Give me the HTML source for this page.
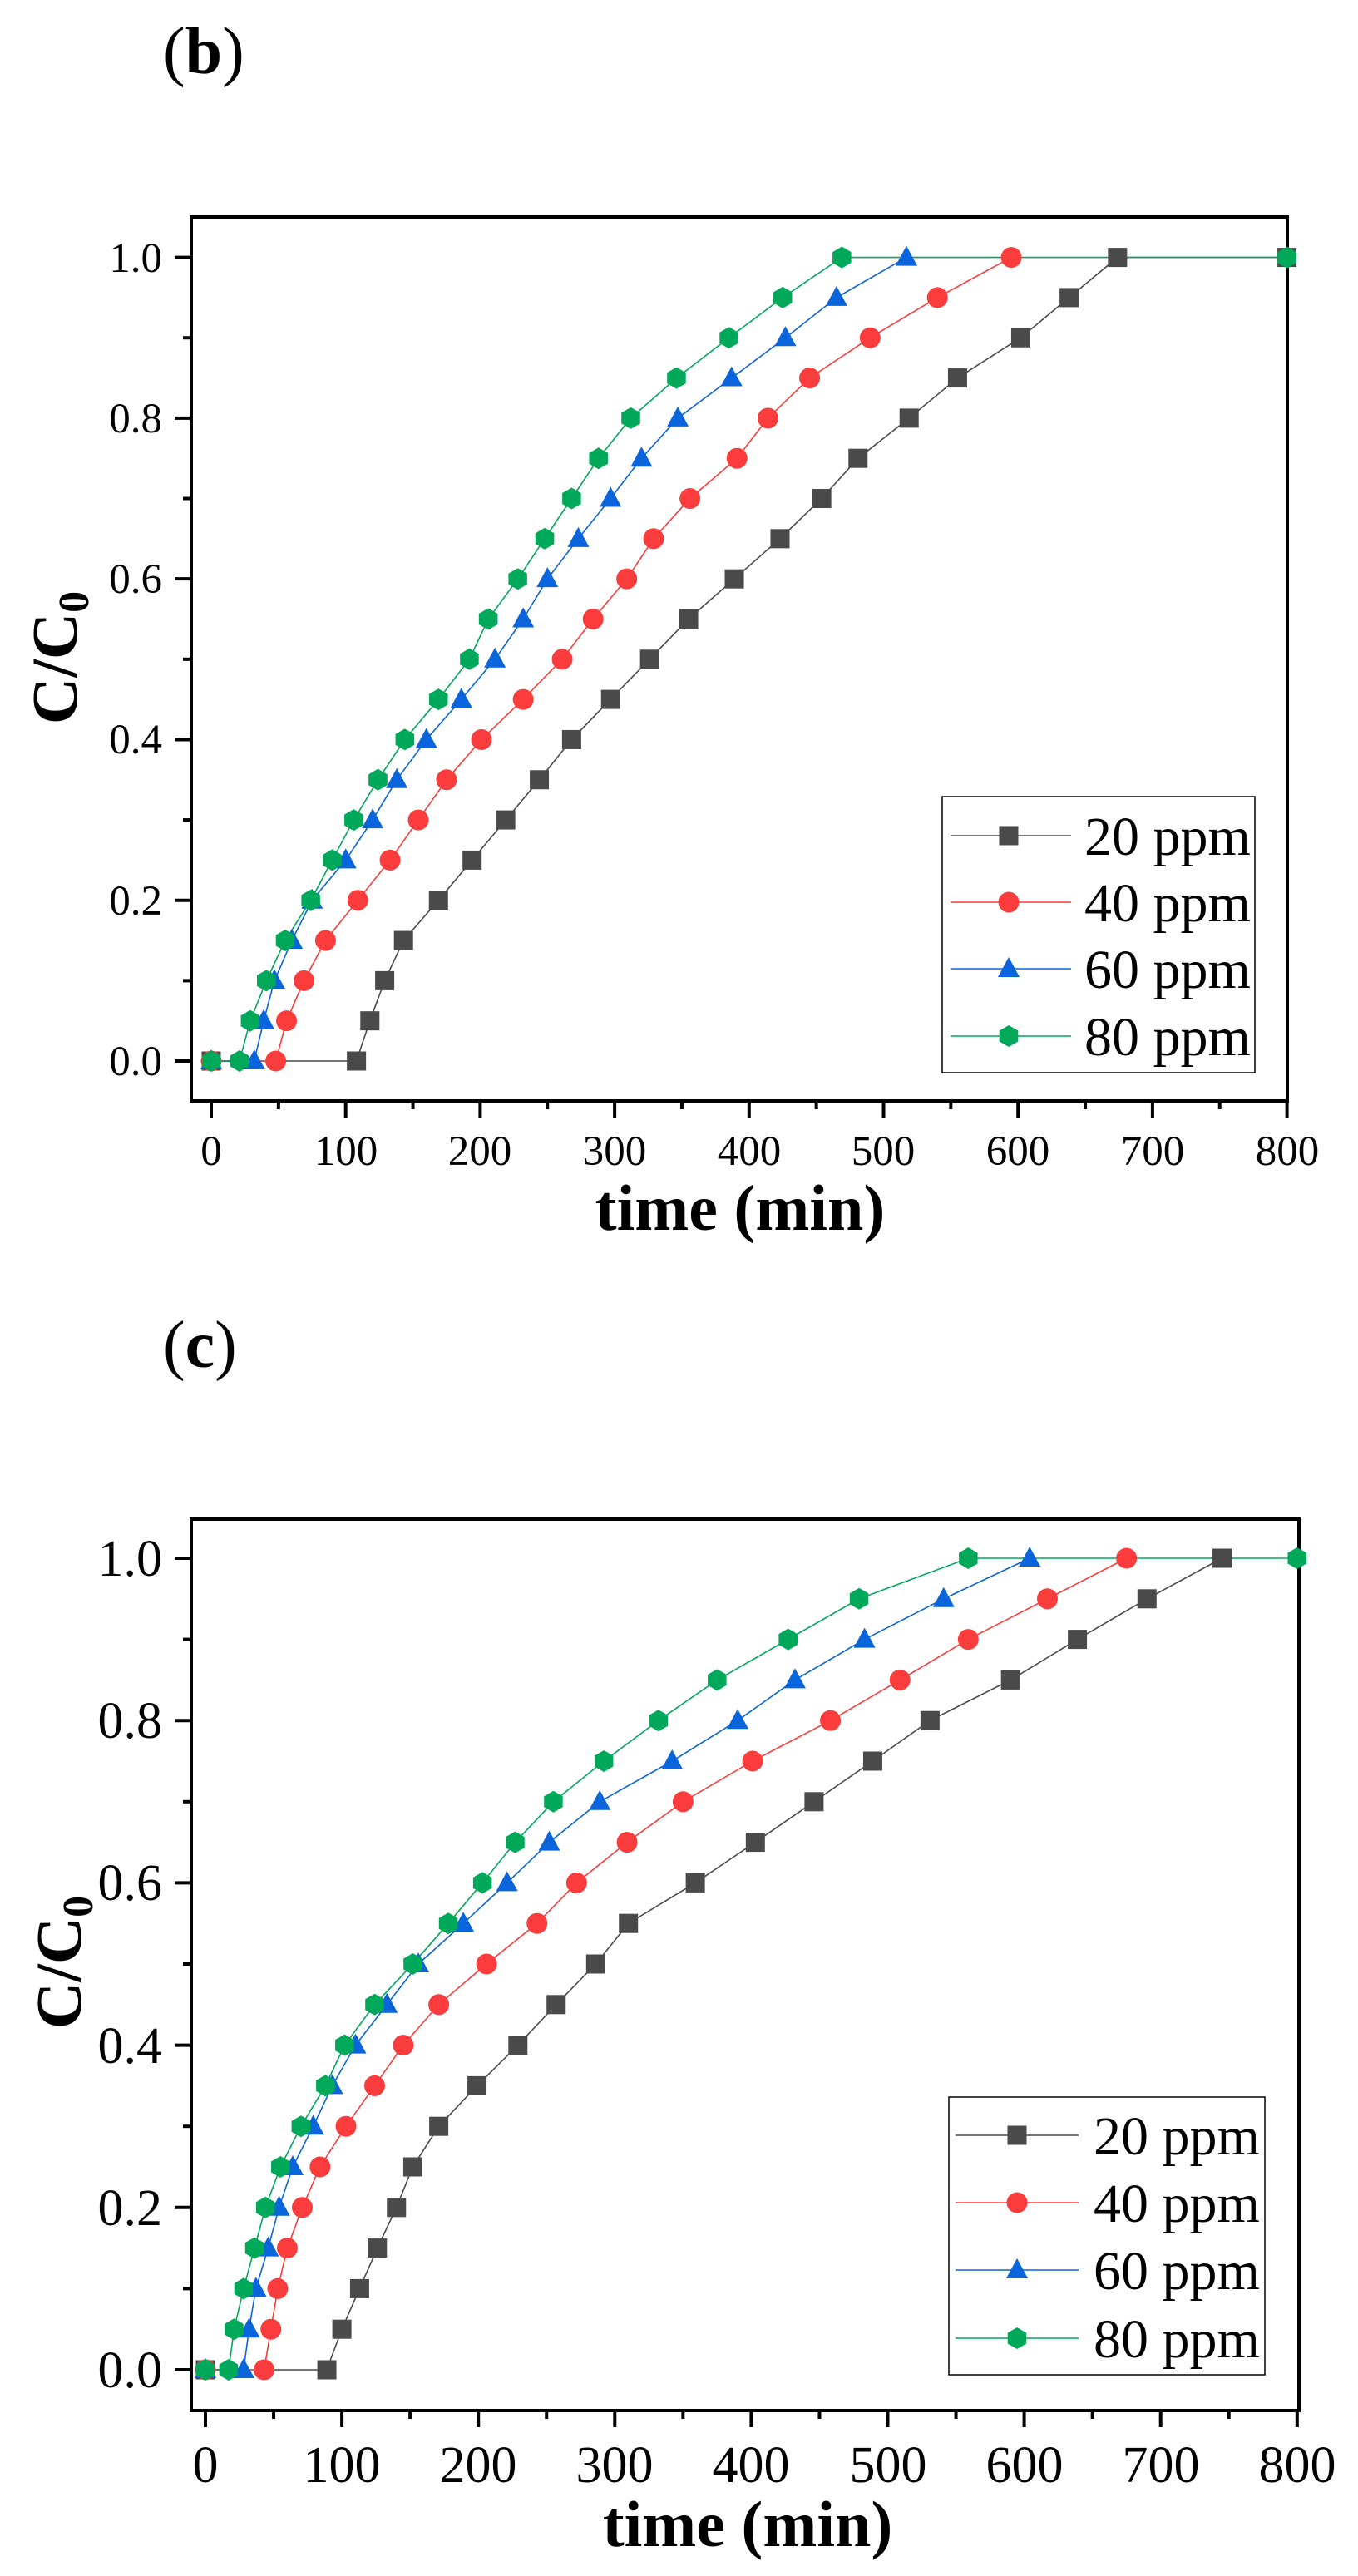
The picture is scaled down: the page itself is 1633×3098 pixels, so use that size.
<!DOCTYPE html>
<html><head><meta charset="utf-8"><style>
html,body{margin:0;padding:0;background:#fff;}
svg{display:block;}
text{font-family:"Liberation Serif",serif;fill:#000;}
</style></head><body>
<svg id="s" width="1633" height="3098" viewBox="0 0 1633 3098" xmlns="http://www.w3.org/2000/svg">
<rect width="1633" height="3098" fill="#fff"/>
<text x="196" y="88" font-size="80">(<tspan font-weight="bold">b</tspan>)</text>
<text x="196" y="1644" font-size="80">(<tspan font-weight="bold">c</tspan>)</text>

<g font-size="51" text-anchor="end">
<text x="195" y="1293">0.0</text>
<text x="195" y="1100">0.2</text>
<text x="195" y="906">0.4</text>
<text x="195" y="713">0.6</text>
<text x="195" y="520">0.8</text>
<text x="195" y="327">1.0</text>
</g>
<g font-size="51" text-anchor="middle">
<text x="254" y="1401">0</text>
<text x="416" y="1401">100</text>
<text x="577" y="1401">200</text>
<text x="739" y="1401">300</text>
<text x="901" y="1401">400</text>
<text x="1062" y="1401">500</text>
<text x="1224" y="1401">600</text>
<text x="1386" y="1401">700</text>
<text x="1548" y="1401">800</text>
</g>
<text x="890" y="1479" font-size="78" font-weight="bold" text-anchor="middle">time (min)</text>
<text transform="translate(92,791) rotate(-90)" font-size="78" font-weight="bold" text-anchor="middle">C/C<tspan font-size="52" dy="14">0</tspan></text>
<g font-size="66">
<text x="1304" y="1028">20 ppm</text>
<text x="1304" y="1108">40 ppm</text>
<text x="1304" y="1188">60 ppm</text>
<text x="1304" y="1269">80 ppm</text>
</g>

<g font-size="62" text-anchor="end">
<text x="195" y="2871">0.0</text>
<text x="195" y="2676">0.2</text>
<text x="195" y="2481">0.4</text>
<text x="195" y="2285">0.6</text>
<text x="195" y="2090">0.8</text>
<text x="195" y="1895">1.0</text>
</g>
<g font-size="62" text-anchor="middle">
<text x="247" y="2985">0</text>
<text x="411" y="2985">100</text>
<text x="575" y="2985">200</text>
<text x="739" y="2985">300</text>
<text x="903" y="2985">400</text>
<text x="1068" y="2985">500</text>
<text x="1232" y="2985">600</text>
<text x="1396" y="2985">700</text>
<text x="1560" y="2985">800</text>
</g>
<text x="899" y="3062" font-size="78" font-weight="bold" text-anchor="middle">time (min)</text>
<text transform="translate(97,2360) rotate(-90)" font-size="78" font-weight="bold" text-anchor="middle">C/C<tspan font-size="52" dy="14">0</tspan></text>
<g font-size="66">
<text x="1315" y="2591">20 ppm</text>
<text x="1315" y="2672">40 ppm</text>
<text x="1315" y="2753">60 ppm</text>
<text x="1315" y="2835">80 ppm</text>
</g>
<g id="dyn"></g>
</svg>
<script>
(function(){
var NS="http://www.w3.org/2000/svg",g=document.getElementById("dyn");
function el(n,a){var e=document.createElementNS(NS,n);for(var k in a)e.setAttribute(k,a[k]);g.appendChild(e);return e;}
var COL=["#4a4a4a","#fa3c3c","#0a64dc","#00a85a"];
function marker(i,x,y){
 var c=COL[i];
 if(i==0) el("rect",{x:x-11.5,y:y-11.5,width:23,height:23,fill:c});
 else if(i==1) el("circle",{cx:x,cy:y,r:12.5,fill:c});
 else if(i==2) el("polygon",{points:(x)+","+(y-14)+" "+(x+13)+","+(y+10)+" "+(x-13)+","+(y+10),fill:c});
 else {var p=[];for(var k=0;k<6;k++){var a=Math.PI/3*k+Math.PI/6;p.push((x+13*Math.cos(a)).toFixed(1)+","+(y+13*Math.sin(a)).toFixed(1));}
  el("polygon",{points:p.join(" "),fill:c});}
}
function chart(o){
 el("rect",{x:o.L,y:o.T,width:o.R-o.L,height:o.B-o.T,fill:"none",stroke:"#000","stroke-width":4});
 for(var v=0;v<=10;v++){var y=o.y0-v*0.1*o.sy;var maj=v%2==0;
  el("line",{x1:o.L-(maj?20:10),x2:o.L,y1:y,y2:y,stroke:"#000","stroke-width":4});}
 for(var t=0;t<=800;t+=50){var x=o.x0+t*o.sx;var maj=t%100==0;
  el("line",{x1:x,x2:x,y1:o.B,y2:o.B+(maj?20:10),stroke:"#000","stroke-width":4});}
 var all=[];
 for(var i=0;i<4;i++){
  var ts=o.d[i],pts=[];
  for(var j=0;j<ts.length;j++){
   var c;
   if(j>=ts.length-o.tail[i]) c=1;
   else if(j<=o.z[i]) c=0;
   else c=(j-o.z[i])*0.05;
   pts.push([o.x0+ts[j]*o.sx,o.y0-c*o.sy]);}
  el("polyline",{points:pts.map(function(p){return p[0].toFixed(1)+","+p[1].toFixed(1)}).join(" "),fill:"none",stroke:COL[i],"stroke-width":1.6});
  all.push(pts);
 }
 for(var i=0;i<4;i++)for(var j=0;j<all[i].length;j++)marker(i,all[i][j][0],all[i][j][1]);
 el("rect",{x:o.lg[0],y:o.lg[1],width:o.lg[2],height:o.lg[3],fill:"none",stroke:"#000","stroke-width":1.5});
 for(var i=0;i<4;i++){var y=o.ly[i];
  el("line",{x1:o.lx[0],x2:o.lx[1],y1:y,y2:y,stroke:COL[i],"stroke-width":1.6});
  marker(i,o.lx[2],y);}
}
var CH1={L:230,R:1548,T:261,B:1324,x0:254,sx:1.617,y0:1276,sy:966.4,
 z:[1,1,1,1],tail:[1,0,0,1],
 d:[
 [0,108,118,129,143,169,194,219,244,268,297,326,355,389,423,454,481,519,555,602,638,674,800],
 [0,48,56,69,85,109,133,154,175,201,232,261,284,309,329,356,391,414,445,490,540,595],
 [0,32,39,47,60,75,100,120,138,160,186,211,232,250,273,297,320,347,387,427,465,517],
 [0,21,29,41,55,74,90,106,124,144,169,192,206,228,248,268,288,312,346,385,425,469,800]],
 lg:[1133,958,376,332],ly:[1005,1085,1165,1246],lx:[1143,1288,1213]};
var CH2={L:230,R:1562,T:1827,B:2899,x0:247,sx:1.641,y0:2850,sy:976,
 z:[1,1,1,1],tail:[0,0,0,1],
 d:[
 [0,89,100,113,126,140,152,171,199,229,257,286,310,359,403,446,489,531,590,639,690,745],
 [0,43,48,53,60,71,84,103,124,145,171,206,243,272,309,350,401,458,509,559,617,675],
 [0,28,32,37,46,54,64,79,93,110,133,156,189,221,252,289,342,390,432,483,541,604],
 [0,17,21,28,36,44,55,70,88,102,124,152,178,203,227,255,292,332,375,427,479,559,800]],
 lg:[1141,2522,380,334],ly:[2568,2649,2730,2812],lx:[1149,1297,1223]};
chart(CH1);chart(CH2);
})();
</script>
</body></html>
